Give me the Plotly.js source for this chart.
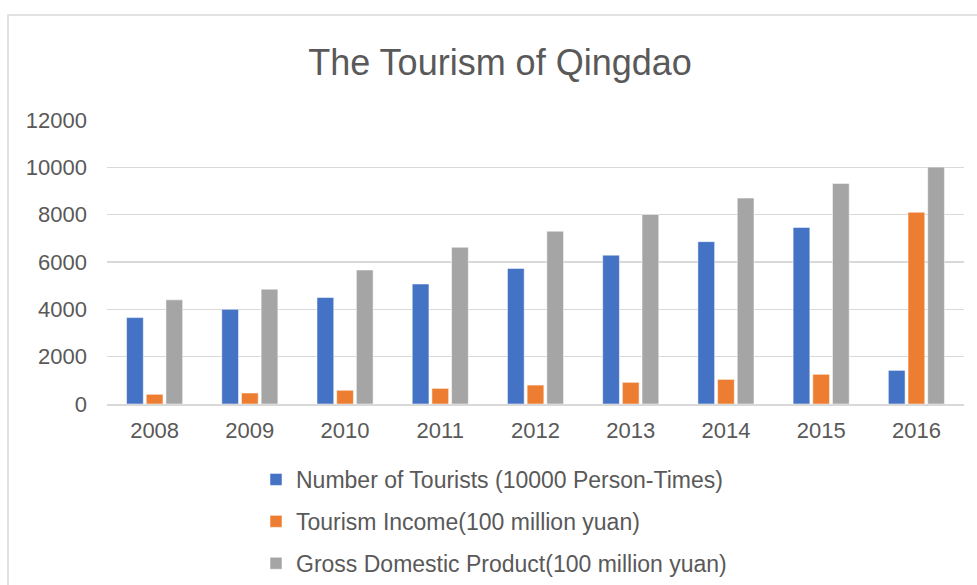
<!DOCTYPE html>
<html>
<head>
<meta charset="utf-8">
<script src="https://cdn.plot.ly/plotly-3.0.1.min.js"></script>
<style>html,body{margin:0;padding:0;background:#fff;}#chart{width:977px;height:585px;}</style>
</head>
<body>
<div id="chart"></div>
<script>
const years = ['2008', '2009', '2010', '2011', '2012', '2013', '2014', '2015', '2016'];
const tourists = [3650, 4000, 4500, 5070, 5730, 6290, 6860, 7460, 1420];
const income = [410, 465, 580, 660, 800, 915, 1040, 1255, 8100];
const gdp = [4400, 4850, 5660, 6620, 7300, 8010, 8700, 9320, 10010];
const seriesNames = [
  'Number of Tourists (10000 Person-Times)',
  'Tourism Income(100 million yuan)',
  'Gross Domestic Product(100 million yuan)'
];
const colors = ['#4472C4', '#ED7D31', '#A5A5A5'];
const values = [tourists, income, gdp];

const FONT = 'Liberation Sans, Arial, sans-serif';
const traces = values.map((v, i) => ({
  type: 'bar',
  x: years,
  y: v,
  name: seriesNames[i],
  legendgroup: 'g' + i,
  marker: {color: colors[i], line: {color: 'rgba(255,255,255,0.5)', width: 1}},
  hoverinfo: 'x+y+name'
}));

// plot area in pixels: x 107..964, y 120..404
const L = 107, R = 964, T = 120, B = 404;
const px = (p) => (p - L) / (R - L);
const py = (p) => (B - p) / (B - T);

const layout = {
  width: 977,
  height: 585,
  margin: {l: L, r: 977 - R, t: T, b: 585 - B, autoexpand: false},
  paper_bgcolor: '#ffffff',
  plot_bgcolor: '#ffffff',
  font: {family: FONT, color: '#595959'},
  title: {
    text: 'The Tourism of Qingdao',
    font: {family: FONT, size: 36, color: '#595959'},
    xref: 'container', yref: 'container',
    x: 500 / 977, y: 1 - 62 / 585, xanchor: 'center', yanchor: 'middle'
  },
  barmode: 'group',
  bargap: 0.38,
  bargroupgap: 0.15,
  xaxis: {
    type: 'category',
    showgrid: false,
    showline: true,
    linecolor: '#d9d9d9',
    linewidth: 1.5,
    ticks: '',
    ticklabelstandoff: 6,
    tickfont: {family: FONT, size: 22, color: '#595959'},
    fixedrange: true
  },
  yaxis: {
    range: [0, 12000],
    dtick: 2000,
    tick0: 0,
    showgrid: true,
    gridcolor: '#d9d9d9',
    gridwidth: 1.5,
    zeroline: false,
    showline: false,
    ticks: '',
    ticklabelstandoff: 19,
    tickformat: 'd',
    tickfont: {family: FONT, size: 22, color: '#595959'},
    fixedrange: true
  },
  showlegend: true,
  legend: {
    orientation: 'v',
    traceorder: 'grouped',
    tracegroupgap: 9,
    x: px(256), xanchor: 'left',
    y: py(458), yanchor: 'top',
    font: {family: FONT, size: 23, color: '#595959'},
    bgcolor: 'rgba(0,0,0,0)',
    itemclick: false
  },
  shapes: [{
    type: 'rect', xref: 'paper', yref: 'paper',
    x0: px(8), x1: px(990), y0: py(15), y1: py(600),
    line: {color: '#d9d9d9', width: 1.5},
    fillcolor: 'rgba(0,0,0,0)', layer: 'below'
  }]
};

Plotly.newPlot('chart', traces, layout, {displayModeBar: false, staticPlot: true});
</script>
</body>
</html>
